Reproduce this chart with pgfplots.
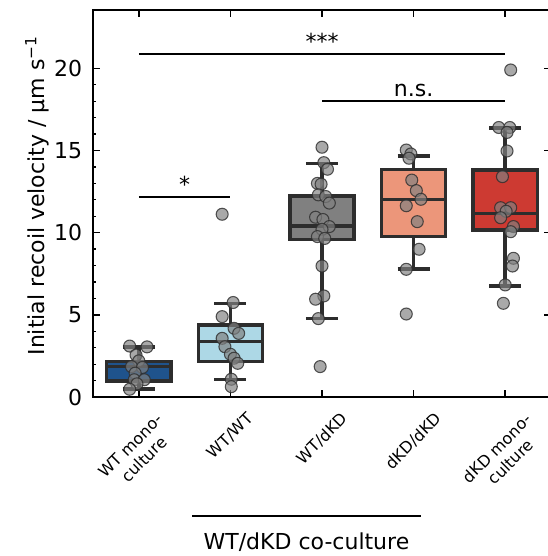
\documentclass[border=0pt]{standalone}
\usepackage{fontspec}
\setmainfont{DejaVu Sans}
\usepackage{pgfplots}
\pgfplotsset{compat=1.18}
\usepgfplotslibrary{statistics}

\definecolor{edge}{RGB}{45,45,45}
\definecolor{cA}{RGB}{31,83,140}
\definecolor{cB}{RGB}{173,216,230}
\definecolor{cC}{RGB}{128,128,128}
\definecolor{cD}{RGB}{236,150,122}
\definecolor{cE}{RGB}{205,58,50}

\newcommand{\lab}{\fontsize{16.5}{19.8}\selectfont}
\newcommand{\ticksz}{\fontsize{12}{14.4}\selectfont}

\pgfplotsset{
  box/.style={draw=edge, fill=#1, line width=2.6pt,
    boxplot/draw direction=y,
    boxplot/box extend=0.7, boxplot/whisker extend=0.35},
  dots/.style={only marks, mark=*, mark size=4.5pt,
    mark options={fill=gray, fill opacity=0.68, draw=edge, draw opacity=0.8, line width=0.8pt}},
}

\begin{document}
\begin{tikzpicture}
\begin{axis}[
  name=ax, at={(0,0)}, anchor=south west,
  scale only axis, width=343.5pt, height=290.25pt,
  xmin=-0.5, xmax=4.5, ymin=0, ymax=23.55,
  xtick={0,1,2,3,4},
  xticklabels={
    {\rotatebox{45}{\begin{tabular}{@{}c@{}}WT mono-\\culture\end{tabular}}},
    {\rotatebox{45}{WT/WT}},
    {\rotatebox{45}{WT/dKD}},
    {\rotatebox{45}{dKD/dKD}},
    {\rotatebox{45}{\begin{tabular}{@{}c@{}}dKD mono-\\culture\end{tabular}}}},
  ytick={0,5,10,15,20}, minor y tick num=4,
  tick align=inside,
  major tick length=5.25pt, minor tick length=2.6pt,
  major tick style={black, line width=1.1pt},
  minor tick style={black, line width=0.9pt},
  axis line style={line width=1.1pt},
  /pgf/number format/assume math mode=true,
  yticklabel style={font=\lab, anchor=east, inner sep=0pt, xshift=-8pt},
  xticklabel style={font=\ticksz, anchor=north, inner sep=0pt, yshift=-10.5pt},
  ylabel={Initial recoil velocity / µm s\textsuperscript{−1}},
  ylabel style={font=\lab, at={(axis description cs:-0.122,0.52)}, anchor=center},
  clip=false,
]
% boxes
\addplot[box=cA, boxplot prepared={lower whisker=0.5, lower quartile=0.97, median=1.85,
  upper quartile=2.17, upper whisker=3.05, draw position=0}] coordinates {};
\addplot[box=cB, boxplot prepared={lower whisker=1.05, lower quartile=2.15, median=3.37,
  upper quartile=4.38, upper whisker=5.7, draw position=1}] coordinates {};
\addplot[box=cC, boxplot prepared={lower whisker=4.77, lower quartile=9.6, median=10.41,
  upper quartile=12.23, upper whisker=14.22, draw position=2}] coordinates {};
\addplot[box=cD, boxplot prepared={lower whisker=7.8, lower quartile=9.76, median=12.03,
  upper quartile=13.86, upper whisker=14.67, draw position=3}] coordinates {};
\addplot[box=cE, boxplot prepared={lower whisker=6.76, lower quartile=10.16, median=11.16,
  upper quartile=13.82, upper whisker=16.37, draw position=4}] coordinates {};

% individual measurements
\addplot[dots] coordinates {
  (-0.10,3.10) (0.09,3.05) (-0.03,2.55) (0.00,2.20) (-0.08,1.85) (0.04,1.80)
  (-0.04,1.45) (-0.05,1.05) (0.06,1.05) (-0.02,0.80) (-0.10,0.47)};
\addplot[dots] coordinates {
  (0.91,11.12) (1.03,5.75) (0.91,4.89) (1.04,4.18) (1.09,3.87) (0.91,3.57)
  (0.94,3.06) (1.00,2.60) (1.04,2.36) (1.08,2.05) (1.01,1.08) (1.01,0.63)};
\addplot[dots] coordinates {
  (2.00,15.20) (2.02,14.26) (2.06,13.86) (1.95,13.00) (1.99,12.95) (1.96,12.30)
  (2.04,12.20) (2.08,11.80) (1.93,10.94) (2.01,10.80) (2.08,10.37) (2.00,10.20)
  (1.95,9.76) (2.03,9.65) (2.00,7.97) (2.02,6.15) (1.93,5.95) (1.96,4.77) (1.98,1.85)};
\addplot[dots] coordinates {
  (2.92,15.03) (2.97,14.79) (2.95,14.53) (2.98,13.20) (3.03,12.56) (3.08,12.03)
  (2.92,11.64) (3.04,10.67) (3.06,8.99) (2.92,7.77) (2.92,5.05)};
\addplot[dots] coordinates {
  (4.06,19.90) (3.93,16.40) (4.05,16.40) (4.02,16.10) (4.02,14.97) (3.97,13.41)
  (3.95,11.52) (4.06,11.52) (4.01,11.30) (3.95,10.91) (4.09,10.37) (4.06,10.06)
  (4.09,8.44) (4.08,7.97) (4.00,6.82) (3.98,5.70)};

% significance brackets
\addplot[black, line width=1.4pt] coordinates {(0,20.87) (4,20.87)};
\addplot[black, line width=1.4pt] coordinates {(2,18.03) (4,18.03)};
\addplot[black, line width=1.4pt] coordinates {(0,12.19) (1,12.19)};
\node[font=\lab, anchor=base] at (axis cs:2,21.15) {***};
\node[font=\lab, anchor=base] at (axis cs:3,18.3) {n.s.};
\node[font=\lab, anchor=base] at (axis cs:0.5,12.47) {*};

% co-culture group
\addplot[black, line width=1.4pt] coordinates {(0.585,-7.24) (3.08,-7.24)};
\node[font=\lab, anchor=base] at (axis cs:1.83,-9.31) {WT/dKD co-culture};
\end{axis}
\pgfresetboundingbox
\useasboundingbox (ax.south west) ++(-69.75pt,-119.25pt) rectangle ++(410.25pt,417pt);
\end{tikzpicture}
\end{document}
